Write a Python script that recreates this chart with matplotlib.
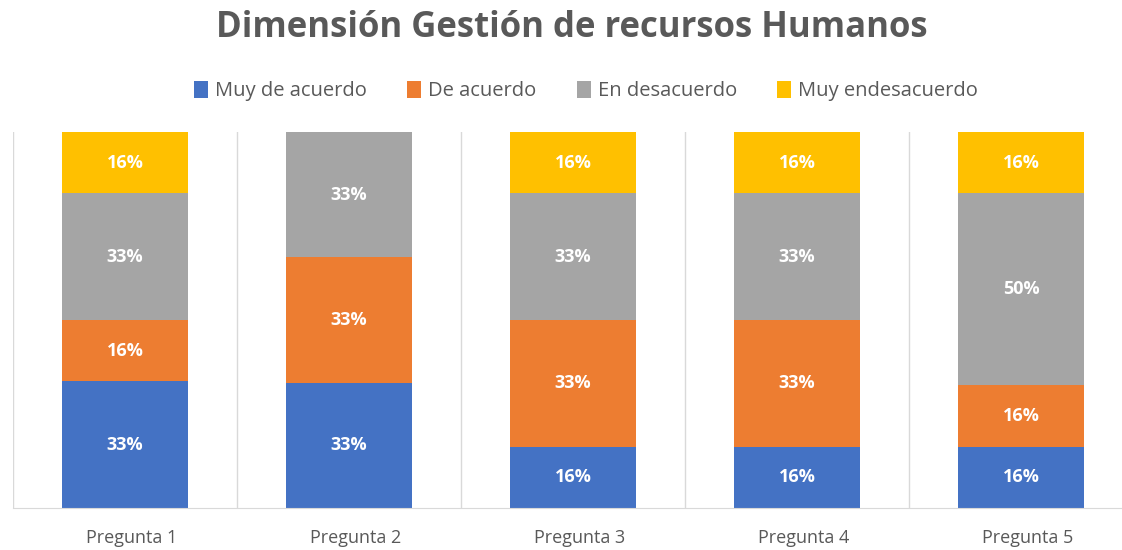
import matplotlib.pyplot as plt
import matplotlib.transforms as mtransforms
import numpy as np

# Data
categories = ['Pregunta 1', 'Pregunta 2', 'Pregunta 3', 'Pregunta 4', 'Pregunta 5']
series = ['Muy de acuerdo', 'De acuerdo', 'En desacuerdo', 'Muy endesacuerdo']
muy_de_acuerdo = [33, 33, 16, 16, 16]
de_acuerdo = [16, 33, 33, 33, 16]
en_desacuerdo = [33, 33, 33, 33, 50]
muy_endesacuerdo = [16, 0, 16, 16, 16]

colors = ['#4472C4', '#ED7D31', '#A5A5A5', '#FFC000']
text_color = '#595959'

plt.rcParams['font.family'] = ['Open Sans', 'DejaVu Sans']

values = np.array([muy_de_acuerdo, de_acuerdo, en_desacuerdo, muy_endesacuerdo], dtype=float)
totals = values.sum(axis=0)
shares = values / totals  # 100% stacked

fig = plt.figure(figsize=(11.22, 5.5), dpi=100)
ax = fig.add_axes([13 / 1122, 42 / 550, 1120 / 1122, 376 / 550])

x = np.arange(len(categories))
bottom = np.zeros(len(categories))
for i, name in enumerate(series):
    ax.bar(x, shares[i], bottom=bottom, width=0.56, color=colors[i], label=name, zorder=2)
    for j in range(len(categories)):
        if values[i, j] > 0:
            ax.text(x[j], bottom[j] + shares[i, j] / 2, f'{int(values[i, j])}%',
                    ha='center', va='center', color='white', fontsize=13,
                    fontweight='bold', zorder=3)
    bottom += shares[i]

ax.set_xlim(-0.5, len(categories) - 0.5)
ax.set_ylim(0, 1)
ax.set_yticks([])
ax.set_xticks(x)
ax.set_xticklabels(categories, color=text_color, fontsize=13)
ax.set_xticks(np.arange(-0.5, len(categories)), minor=True)
ax.tick_params(axis='x', which='both', length=0, pad=15)
# labels sit a touch right of the bar centres in the original
shift = mtransforms.ScaledTranslation(7 / 100, 0, fig.dpi_scale_trans)
for lbl in ax.get_xticklabels():
    lbl.set_transform(lbl.get_transform() + shift)
ax.grid(axis='x', which='minor', color='#D9D9D9', linewidth=1, zorder=0)
for side in ['top', 'right', 'left']:
    ax.spines[side].set_visible(False)
ax.spines['bottom'].set_color('#D9D9D9')

fig.text(572 / 1122, 1 - 28 / 550, 'Dimensión Gestión de recursos Humanos',
         ha='center', va='center', fontsize=25, fontweight='bold', color=text_color)

fig.legend(loc='center', bbox_to_anchor=(586 / 1122, 1 - 91 / 550), ncol=4,
           frameon=False, fontsize=14.5, handlelength=0.7, handleheight=0.9,
           handletextpad=0.35, columnspacing=2.0, labelcolor=text_color)

fig.savefig('out.png', dpi=100)
